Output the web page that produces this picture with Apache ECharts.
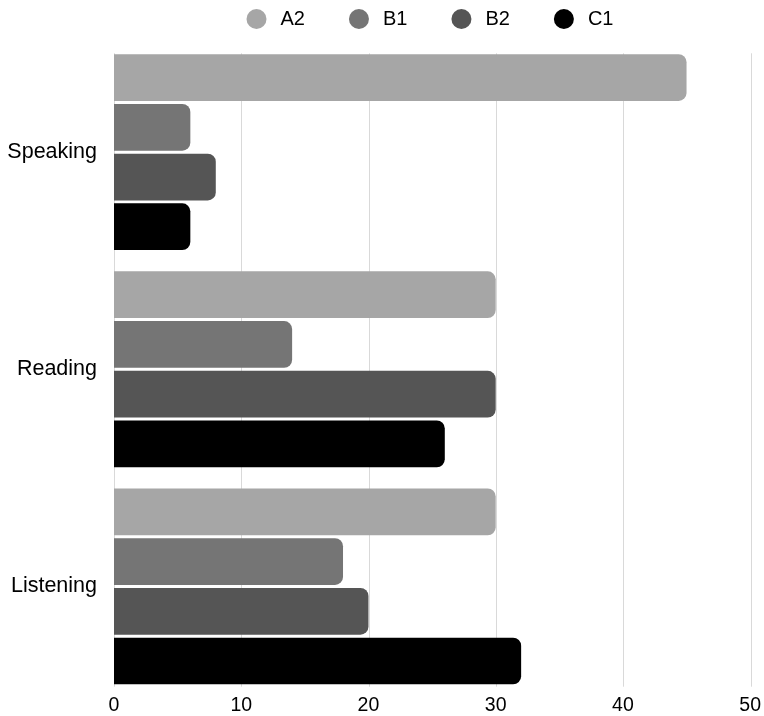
<!DOCTYPE html>
<html>
<head>
<meta charset="utf-8">
<script src="https://cdn.jsdelivr.net/npm/echarts@6/dist/echarts.min.js"></script>
<style>
html,body{margin:0;padding:0;background:#fff;}
#chart{width:764px;height:716px;}
</style>
</head>
<body>
<div id="chart"></div>
<script>
const categories = ['Speaking', 'Reading', 'Listening'];
const seriesNames = ['A2', 'B1', 'B2', 'C1'];
const valuesA2 = [45, 30, 30];
const valuesB1 = [6, 14, 18];
const valuesB2 = [8, 30, 20];
const valuesC1 = [6, 26, 32];
const xTicks = [0, 10, 20, 30, 40, 50];

const seriesValues = [valuesA2, valuesB1, valuesB2, valuesC1];
const colors = ['#a6a6a6', '#757575', '#555555', '#000000'];
const font = 'Liberation Sans, Arial, Helvetica, sans-serif';
const xMin = xTicks[0], xMax = xTicks[xTicks.length - 1], xStep = xTicks[1] - xTicks[0];

const chart = echarts.init(document.getElementById('chart'), null, {renderer: 'canvas'});
chart.setOption({
  animation: false,
  color: colors,
  legend: {
    data: seriesNames,
    icon: 'circle',
    itemWidth: 20,
    itemHeight: 20,
    itemGap: 44,
    left: 241.5,
    top: 4,
    textStyle: {fontFamily: font, fontSize: 20, color: '#000', padding: [0, 0, 0, 9]}
  },
  grid: [
    {left: 114, right: 13, top: 43.6, bottom: 18.4, containLabel: false},
    {left: 114, right: 13, top: 53.3, bottom: 29.3, containLabel: false}
  ],
  xAxis: [
    {
      type: 'value', gridIndex: 0,
      min: xMin, max: xMax, interval: xStep,
      axisLine: {show: false},
      axisTick: {show: false},
      splitLine: {show: false},
      axisLabel: {fontFamily: font, fontSize: 19.5, color: '#000', margin: 1}
    },
    {
      type: 'value', gridIndex: 1,
      min: xMin, max: xMax, interval: xStep,
      axisLine: {show: false},
      axisTick: {show: false},
      axisLabel: {show: false},
      splitLine: {show: true, lineStyle: {color: '#d9d9d9', width: 1}}
    }
  ],
  yAxis: [
    {
      type: 'category', gridIndex: 0,
      inverse: true,
      data: categories,
      axisLine: {show: false},
      axisTick: {show: false},
      axisLabel: {fontFamily: font, fontSize: 21.5, color: '#000', margin: 17}
    },
    {
      type: 'category', gridIndex: 1,
      inverse: true,
      data: categories,
      show: false
    }
  ],
  series: seriesNames.map((name, i) => ({
    name: name,
    type: 'bar',
    xAxisIndex: 0,
    yAxisIndex: 0,
    data: seriesValues[i],
    barCategoryGap: '9.8%',
    barGap: '6.4%',
    itemStyle: {color: colors[i], borderRadius: [0, 8, 8, 0]}
  }))
});
</script>
</body>
</html>
